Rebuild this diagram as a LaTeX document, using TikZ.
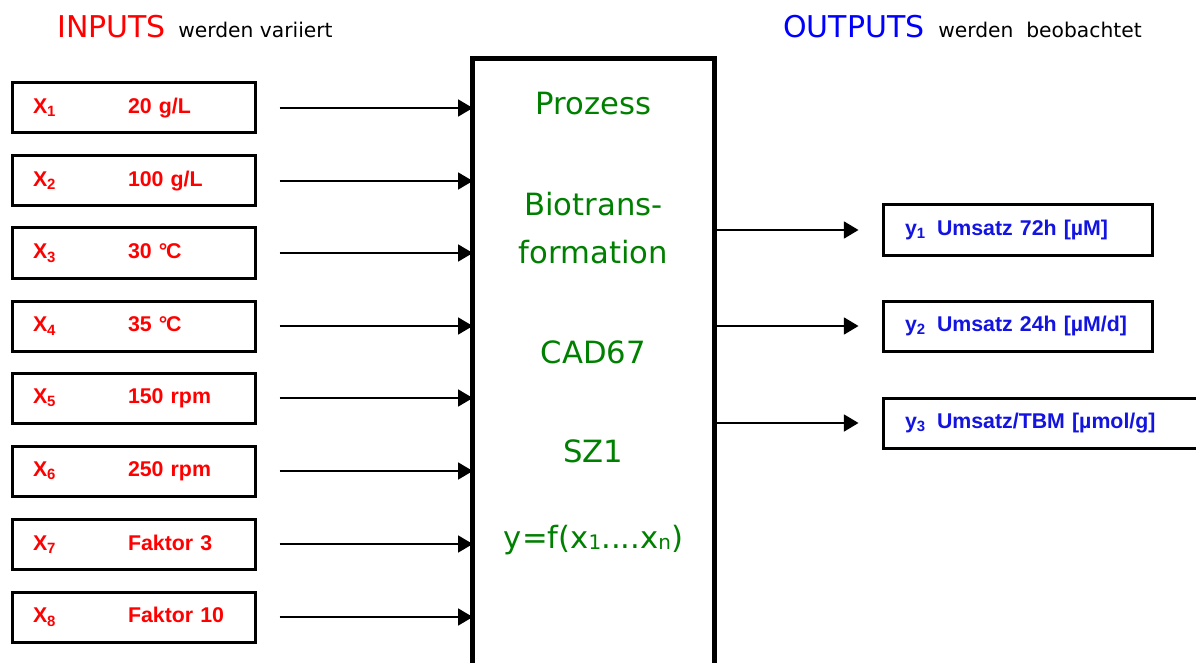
\documentclass[tikz,border=0pt]{standalone}
\usepackage{fontspec}
\setmainfont{Liberation Sans}
\newfontfamily\dejavu{DejaVu Sans}
\usetikzlibrary{arrows.meta}
\definecolor{inred}{RGB}{255,0,0}
\definecolor{outblue}{RGB}{0,0,255}
\definecolor{boxblue}{RGB}{20,20,225}
\definecolor{procgreen}{RGB}{0,128,0}
\newcommand\invar[2]{\makebox[71.25pt][l]{X\textsubscript{#1}}#2}
\newcommand\outvar[2]{\makebox[24pt][l]{y\textsubscript{#1}}#2}
\newcommand\lowsub[1]{\raisebox{-0.06em}{\fontsize{15}{15}\selectfont #1}}
\begin{document}
\begin{tikzpicture}[x=0.75pt,y=-0.75pt,
 inbox/.style={draw,line width=2.25pt,minimum width=182.25pt,minimum height=37.5pt,inner xsep=15.75pt,text width=150.75pt,align=left,font=\bfseries\fontsize{16}{18}\selectfont,text=inred},
 outbox/.style={draw,line width=2.25pt,minimum height=37.5pt,inner xsep=16.5pt,align=left,font=\bfseries\fontsize{16}{18}\selectfont,text=boxblue},
 arr/.style={line width=1.4pt,-{Triangle[length=11pt,width=12.75pt]}},
 proctext/.style={anchor=base,text=procgreen,font=\dejavu\fontsize{23}{26}\selectfont,inner sep=0pt},
 titlebig/.style={anchor=base west,inner sep=0pt,font=\dejavu\fontsize{22.5}{26}\selectfont},
 titlesmall/.style={anchor=base west,inner sep=0pt,font=\dejavu\fontsize{15.2}{18}\selectfont},
]
\useasboundingbox (0,0) rectangle (1196,663);
\clip (0,0) rectangle (1196,663);
\fill[white] (0,0) rectangle (1196,663);

% titles
\node[titlebig,text=inred] (tin) at (57,38) {INPUTS};
\node[titlesmall] (tinsub) at (178,38) {werden variiert};
\node[titlebig,text=outblue] (tout) at (783,38) {OUTPUTS};
\node[titlesmall] (toutsub) at (938,38) {werden\ \ beobachtet};

% process box (open at the bottom)
\node[minimum width=180.75pt,minimum height=458.25pt,inner sep=0pt] (proc) at (593.5,364.5) {};
\draw[line width=3.75pt,miter limit=10] (proc.south west) -- (proc.north west) -- (proc.north east) -- (proc.south east);

\node[proctext] (p1) at (593.5,115) {Prozess};
\node[proctext] (p2) at (593.5,215) {Biotrans-};
\node[proctext] (p3) at (593.5,263) {formation};
\node[proctext] (p4) at (593.5,363) {CAD67};
\node[proctext] (p5) at (593.5,462) {SZ1};
\node[proctext] (p6) at (593.5,548) {y=f(x\lowsub{1}....x\lowsub{n})};

% inputs
\node[inbox] (in1) at (133.5,108) {\invar{1}{20 g/L}};
\node[inbox] (in2) at (133.5,181) {\invar{2}{100 g/L}};
\node[inbox] (in3) at (133.5,253) {\invar{3}{30 °\kern-0.06em C}};
\node[inbox] (in4) at (133.5,326) {\invar{4}{35 °\kern-0.06em C}};
\node[inbox] (in5) at (133.5,398) {\invar{5}{150 rpm}};
\node[inbox] (in6) at (133.5,471) {\invar{6}{250 rpm}};
\node[inbox] (in7) at (133.5,544) {\invar{7}{Faktor 3}};
\node[inbox] (in8) at (133.5,617) {\invar{8}{Faktor 10}};
\foreach \i in {1,...,8}
  \draw[arr] ([xshift=17.25pt]in\i.east) -- (in\i.east -| proc.west);

% outputs
\node[outbox,minimum width=201.75pt,text width=168.75pt] (out1) at (1017.5,230) {\outvar{1}{Umsatz 72h [µM]}};
\node[outbox,minimum width=201.75pt,text width=168.75pt] (out2) at (1017.5,326) {\outvar{2}{Umsatz 24h [µM/d]}};
\node[outbox,minimum width=247.5pt,text width=214.5pt] (out3) at (1048,423) {\outvar{3}{Umsatz/TBM [µmol/g]}};
\foreach \i in {1,2,3}
  \draw[arr] (proc.east |- out\i.west) -- ([xshift=-17.25pt]out\i.west);
\end{tikzpicture}
\end{document}
